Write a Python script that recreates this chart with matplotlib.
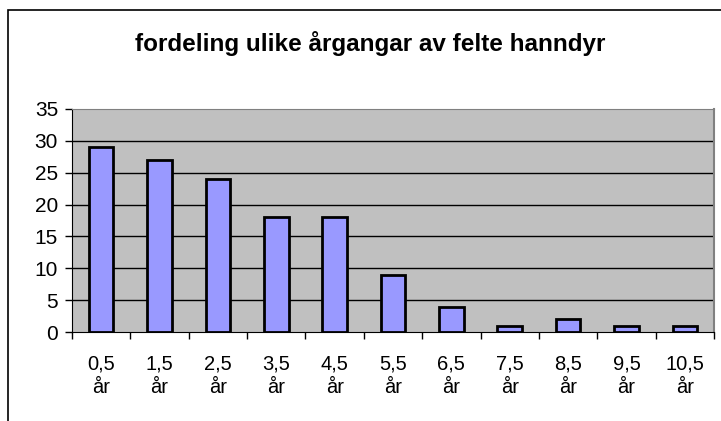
import matplotlib.pyplot as plt
from matplotlib.patches import Rectangle
import numpy as np

plt.rcParams['font.family'] = ['Liberation Sans', 'DejaVu Sans']

categories = ["0,5\når", "1,5\når", "2,5\når", "3,5\når", "4,5\når", "5,5\når",
              "6,5\når", "7,5\når", "8,5\når", "9,5\når", "10,5\når"]
counts = [29, 27, 24, 18, 18, 9, 4, 1, 2, 1, 1]
y_ticks = [0, 5, 10, 15, 20, 25, 30, 35]

fig = plt.figure(figsize=(7.21, 4.21), dpi=100)

# chart area border (only left and top visible in the original)
fig.patches.append(Rectangle((8 / 721, -0.1), 1.2, 1 - 10 / 421 + 0.1,
                             transform=fig.transFigure, fill=False,
                             edgecolor="black", linewidth=1.2))

fig.text(370 / 721, 1 - 44 / 421, "fordeling ulike årgangar av felte hanndyr",
         ha="center", va="center", fontsize=17.5, fontweight="bold")

ax = fig.add_axes([72 / 721, 89 / 421, 642 / 721, 223 / 421])
ax.set_facecolor("#C0C0C0")

x = np.arange(len(counts))
ax.bar(x, counts, width=0.42, color="#9999FF", edgecolor="black",
       linewidth=2, zorder=3)

ax.set_ylim(0, 35)
ax.set_xlim(-0.5, len(counts) - 0.5)
ax.set_yticks(y_ticks)
for v in y_ticks[1:-1]:
    ax.axhline(v, color="black", linewidth=1, zorder=1)

ax.set_xticks(x)
ax.set_xticklabels(categories, linespacing=1.35)
ax.set_xticks(np.arange(-0.5, len(counts), 1), minor=True)
ax.tick_params(axis="x", which="major", length=0, pad=16, labelsize=14.5)
ax.tick_params(axis="x", which="minor", length=5, width=1, direction="out")
ax.tick_params(axis="y", length=5, width=1, pad=5, labelsize=15)

ax.spines["top"].set_color("#808080")
ax.spines["right"].set_color("#808080")
ax.spines["right"].set_linewidth(1.5)
ax.spines["left"].set_color("black")
ax.spines["bottom"].set_color("black")

fig.savefig("out.png", dpi=100)
